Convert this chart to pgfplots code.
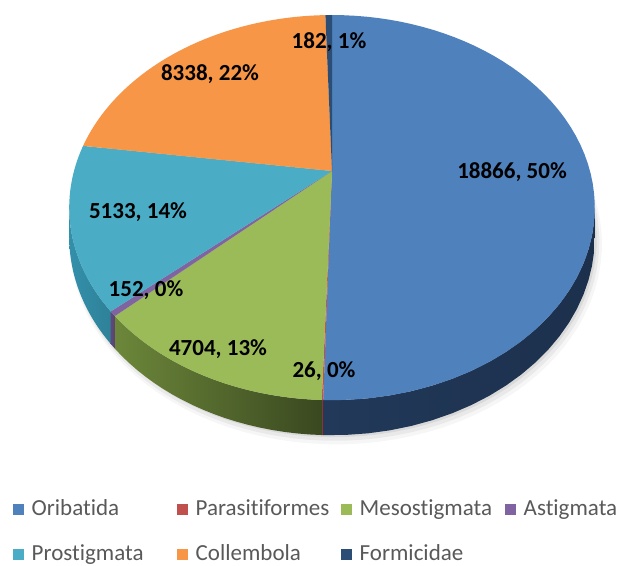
\documentclass[border=0pt]{standalone}
\usepackage{pgfplots}
\pgfplotsset{compat=1.18}
\usepackage{pgfplotstable}
\usepackage{fontspec}
\setmainfont{Carlito}[Ligatures=NoCommon]

\definecolor{c0}{HTML}{4F81BD}
\definecolor{c1}{HTML}{C0504D}
\definecolor{c2}{HTML}{9BBB59}
\definecolor{c3}{HTML}{8064A2}
\definecolor{c4}{HTML}{4BACC6}
\definecolor{c5}{HTML}{F79646}
\definecolor{c6}{HTML}{2C4D75}
\definecolor{sl0}{HTML}{22395A}
\definecolor{sr0}{HTML}{1C304C}
\definecolor{sl1}{HTML}{8A3634}
\definecolor{sr1}{HTML}{7A2E2C}
\definecolor{sl2}{HTML}{6C873A}
\definecolor{sr2}{HTML}{3A4820}
\definecolor{sl3}{HTML}{5E4878}
\definecolor{sr3}{HTML}{584470}
\definecolor{sl4}{HTML}{3390AA}
\definecolor{sr4}{HTML}{2E8198}
\definecolor{legtext}{HTML}{595959}

\pgfplotstableread{
name value
Oribatida 18866
Parasitiformes 26
Mesostigmata 4704
Astigmata 152
Prostigmata 5133
Collembola 8338
Formicidae 182
}\piedata

\def\pietotal{0}%
\pgfplotsforeachungrouped \i in {0,...,6}{%
  \pgfplotstablegetelem{\i}{value}\of\piedata
  \xdef\pietotal{\fpeval{\pietotal+\pgfplotsretval}}%
}%
\def\piecum{0}%
\pgfplotsforeachungrouped \i in {0,...,6}{%
  \pgfplotstablegetelem{\i}{value}\of\piedata
  \xdef\pieang{\fpeval{round(\pgfplotsretval/\pietotal*360,4)}}%
  \expandafter\xdef\csname pa\i\endcsname{\piecum}%
  \xdef\piecum{\fpeval{\piecum+\pieang}}%
  \expandafter\xdef\csname pb\i\endcsname{\piecum}%
  \expandafter\xdef\csname sa\i\endcsname{\fpeval{max(\csname pa\i\endcsname,100.95)}}%
  \expandafter\xdef\csname sb\i\endcsname{\fpeval{min(\piecum,259.05)}}%
  \pgfplotstablegetelem{\i}{name}\of\piedata
  \expandafter\xdef\csname pn\i\endcsname{\pgfplotsretval}%
}%

\begin{document}
\begin{tikzpicture}
\begin{axis}[
  scale only axis, width=617pt, height=565pt,
  xmin=0, xmax=617, ymin=0, ymax=565, y dir=reverse,
  hide axis, clip=false,
  declare function={
    px(\p)=332+258*sin(\p)/(1+0.19*cos(\p));
    py(\p)=171-185.6*cos(\p)/(1+0.19*cos(\p));
    hh(\p)=28.4/(1+0.19*cos(\p));
    sphi(\t,\a,\b)=(\t<20.5)*(\a+\t/20*(\b-\a))+(\t>20.5)*(\b-(\t-21)/20*(\b-\a));
  },
  legend columns=4, legend cell align=left,
  legend image code/.code={\fill[#1] (0pt,-5.5pt) rectangle (11pt,5.5pt); \path (18.5pt,0pt);},
  legend style={at={(0.02107,0.1168)}, anchor=north west, draw=none, fill=none,
    inner sep=0pt, column sep=0pt, row sep=24pt,
    font=\fontsize{23pt}{27pt}\selectfont, text=legtext,
    nodes={inner sep=0pt, text width=145.5pt, text height=16pt, text depth=5pt}},
]
% soft shadow
\addplot[forget plot, draw=none, fill=black, fill opacity=0.035, domain=0:360, samples=120, variable=\t]
  ({332+1.012*(px(\t)-332)+4},{171+1.012*(py(\t)+hh(\t)-171)+6}) -- cycle;
\addplot[forget plot, draw=none, fill=black, fill opacity=0.05, domain=0:360, samples=120, variable=\t]
  ({332+1.006*(px(\t)-332)+3},{171+1.006*(py(\t)+hh(\t)-171)+4}) -- cycle;
\addplot[forget plot, draw=none, fill=black, fill opacity=0.07, domain=0:360, samples=120, variable=\t]
  ({px(\t)+2},{py(\t)+hh(\t)+2}) -- cycle;
% side faces
\pgfplotsinvokeforeach{0,...,4}{
  \addplot[forget plot, draw=none, left color=sl#1, right color=sr#1,
    samples at={0,...,41}, variable=\t]
  ({px(sphi(\t,\csname sa#1\endcsname,\csname sb#1\endcsname))},
   {py(sphi(\t,\csname sa#1\endcsname,\csname sb#1\endcsname))+(\t>20.5)*hh(sphi(\t,\csname sa#1\endcsname,\csname sb#1\endcsname))});
}
% top faces
\pgfplotsinvokeforeach{0,...,6}{
  \addplot[draw=none, fill=c#1, domain=\csname pa#1\endcsname:\csname pb#1\endcsname,
    samples=61, variable=\t]
  ({px(\t)},{py(\t)}) -- (axis cs:332,171) -- cycle;
  \addlegendentry{\csname pn#1\endcsname}
}
\begin{scope}[every node/.style={font=\fontsize{23pt}{27pt}\selectfont\bfseries, text=black}]
\node at (axis cs:329,42) {182, 1\%};
\node at (axis cs:210,74) {8338, 22\%};
\node at (axis cs:512,172) {18866, 50\%};
\node at (axis cs:138,212) {5133, 14\%};
\node at (axis cs:146,290) {152, 0\%};
\node at (axis cs:218,349) {4704, 13\%};
\node at (axis cs:324,371) {26, 0\%};
\end{scope}
\end{axis}
\pgfresetboundingbox
\useasboundingbox (current axis.south west) rectangle (current axis.north east);
\end{tikzpicture}
\end{document}
